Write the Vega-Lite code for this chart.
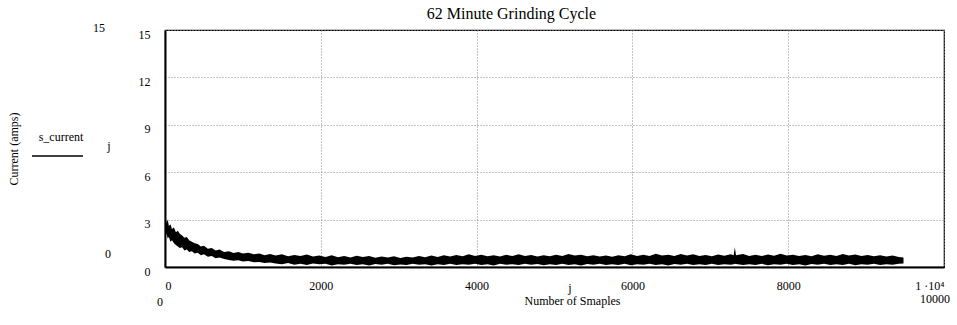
{
  "$schema": "https://vega.github.io/schema/vega-lite/v6.json",
  "width": 779,
  "height": 237,
  "autosize": {"type": "none"},
  "padding": {"left": 165, "top": 30, "right": 13, "bottom": 58},
  "background": "white",
  "title": {"text": "62 Minute Grinding Cycle", "font": "Liberation Serif", "fontSize": 16, "fontWeight": "normal", "color": "black", "anchor": "middle", "frame": "group", "dx": -43, "offset": 0},
  "config": {
    "view": {"stroke": "black", "strokeWidth": 1.2},
    "axis": {"labelFont": "Liberation Serif", "titleFont": "Liberation Serif", "labelColor": "black", "titleColor": "black", "titleFontWeight": "normal", "ticks": false, "domain": true, "domainColor": "black", "domainWidth": 2, "grid": true, "gridColor": "#8a8a8a", "gridDash": [1, 2], "gridWidth": 1}
  },
  "datasets": {
    "sig": [
      {"x":0,"hi":3.4,"lo":2.3},{"x":8,"hi":3.1,"lo":2.0},{"x":20,"hi":2.8,"lo":2.1},{"x":35,"hi":3.0,"lo":1.8},
      {"x":50,"hi":2.6,"lo":1.9},{"x":70,"hi":2.7,"lo":1.6},{"x":90,"hi":2.4,"lo":1.7},{"x":115,"hi":2.5,"lo":1.5},
      {"x":140,"hi":2.2,"lo":1.4},{"x":165,"hi":2.3,"lo":1.3},{"x":190,"hi":2.1,"lo":1.2},{"x":220,"hi":2.0,"lo":1.25},
      {"x":250,"hi":1.85,"lo":1.05},{"x":280,"hi":1.9,"lo":1.1},{"x":310,"hi":1.7,"lo":0.95},{"x":345,"hi":1.6,"lo":1.0},
      {"x":380,"hi":1.5,"lo":0.85},{"x":420,"hi":1.45,"lo":0.9},{"x":460,"hi":1.3,"lo":0.75},{"x":500,"hi":1.35,"lo":0.8},
      {"x":550,"hi":1.15,"lo":0.65},{"x":600,"hi":1.2,"lo":0.7},{"x":650,"hi":1.05,"lo":0.55},{"x":700,"hi":1.1,"lo":0.6},
      {"x":760,"hi":0.95,"lo":0.5},{"x":820,"hi":1.0,"lo":0.45},{"x":880,"hi":0.88,"lo":0.4},{"x":940,"hi":0.95,"lo":0.42},
      {"x":1000,"hi":0.85,"lo":0.35},{"x":1070,"hi":0.9,"lo":0.38},{"x":1140,"hi":0.8,"lo":0.3},{"x":1210,"hi":0.86,"lo":0.32},
      {"x":1280,"hi":0.75,"lo":0.26},{"x":1350,"hi":0.82,"lo":0.28},
      {"x":1420,"hi":0.72,"lo":0.22},{"x":1500,"hi":0.8,"lo":0.18},{"x":1580,"hi":0.68,"lo":0.25},{"x":1660,"hi":0.76,"lo":0.15},
      {"x":1740,"hi":0.7,"lo":0.2},{"x":1820,"hi":0.79,"lo":0.12},{"x":1900,"hi":0.66,"lo":0.22},{"x":1980,"hi":0.73,"lo":0.17},
      {"x":2060,"hi":0.64,"lo":0.2},{"x":2140,"hi":0.74,"lo":0.1},{"x":2220,"hi":0.62,"lo":0.18},{"x":2300,"hi":0.7,"lo":0.14},
      {"x":2380,"hi":0.6,"lo":0.2},{"x":2460,"hi":0.71,"lo":0.12},{"x":2540,"hi":0.63,"lo":0.17},{"x":2620,"hi":0.69,"lo":0.1},
      {"x":2700,"hi":0.58,"lo":0.19},{"x":2780,"hi":0.66,"lo":0.14},{"x":2860,"hi":0.6,"lo":0.2},{"x":2940,"hi":0.68,"lo":0.11},
      {"x":3020,"hi":0.57,"lo":0.16},{"x":3100,"hi":0.65,"lo":0.12},{"x":3180,"hi":0.6,"lo":0.2},{"x":3260,"hi":0.7,"lo":0.14},
      {"x":3340,"hi":0.62,"lo":0.18},{"x":3420,"hi":0.72,"lo":0.1},{"x":3500,"hi":0.64,"lo":0.17},{"x":3580,"hi":0.74,"lo":0.13},
      {"x":3660,"hi":0.66,"lo":0.2},{"x":3740,"hi":0.76,"lo":0.12},{"x":3820,"hi":0.68,"lo":0.18},{"x":3900,"hi":0.8,"lo":0.14},
      {"x":3980,"hi":0.7,"lo":0.2},{"x":4060,"hi":0.78,"lo":0.12},{"x":4140,"hi":0.68,"lo":0.17},{"x":4220,"hi":0.75,"lo":0.1},
      {"x":4300,"hi":0.66,"lo":0.2},{"x":4380,"hi":0.77,"lo":0.14},{"x":4460,"hi":0.69,"lo":0.18},{"x":4540,"hi":0.8,"lo":0.12},
      {"x":4620,"hi":0.7,"lo":0.2},{"x":4700,"hi":0.76,"lo":0.15},{"x":4780,"hi":0.66,"lo":0.19},{"x":4860,"hi":0.74,"lo":0.11},
      {"x":4940,"hi":0.68,"lo":0.18},{"x":5020,"hi":0.78,"lo":0.13},{"x":5100,"hi":0.7,"lo":0.2},{"x":5180,"hi":0.82,"lo":0.12},
      {"x":5260,"hi":0.72,"lo":0.17},{"x":5340,"hi":0.77,"lo":0.1},{"x":5420,"hi":0.68,"lo":0.19},{"x":5500,"hi":0.75,"lo":0.14},
      {"x":5580,"hi":0.67,"lo":0.2},{"x":5660,"hi":0.73,"lo":0.12},{"x":5740,"hi":0.65,"lo":0.18},{"x":5820,"hi":0.74,"lo":0.13},
      {"x":5900,"hi":0.68,"lo":0.2},{"x":5980,"hi":0.8,"lo":0.11},{"x":6060,"hi":0.7,"lo":0.18},{"x":6140,"hi":0.77,"lo":0.14},
      {"x":6220,"hi":0.69,"lo":0.2},{"x":6300,"hi":0.84,"lo":0.12},{"x":6380,"hi":0.72,"lo":0.17},{"x":6460,"hi":0.78,"lo":0.1},
      {"x":6540,"hi":0.7,"lo":0.19},{"x":6620,"hi":0.83,"lo":0.14},{"x":6700,"hi":0.73,"lo":0.2},{"x":6780,"hi":0.8,"lo":0.12},
      {"x":6860,"hi":0.7,"lo":0.18},{"x":6940,"hi":0.76,"lo":0.13},{"x":7020,"hi":0.68,"lo":0.2},{"x":7100,"hi":0.79,"lo":0.12},
      {"x":7180,"hi":0.71,"lo":0.17},{"x":7260,"hi":0.8,"lo":0.14},{"x":7300,"hi":0.74,"lo":0.18},{"x":7315,"hi":1.25,"lo":0.2},
      {"x":7330,"hi":0.75,"lo":0.19},{"x":7420,"hi":0.82,"lo":0.12},{"x":7500,"hi":0.7,"lo":0.18},{"x":7580,"hi":0.77,"lo":0.13},
      {"x":7660,"hi":0.69,"lo":0.2},{"x":7740,"hi":0.79,"lo":0.11},{"x":7820,"hi":0.71,"lo":0.18},{"x":7900,"hi":0.84,"lo":0.14},
      {"x":7980,"hi":0.73,"lo":0.2},{"x":8060,"hi":0.78,"lo":0.12},{"x":8140,"hi":0.7,"lo":0.17},{"x":8220,"hi":0.76,"lo":0.1},
      {"x":8300,"hi":0.68,"lo":0.19},{"x":8380,"hi":0.8,"lo":0.14},{"x":8460,"hi":0.71,"lo":0.2},{"x":8540,"hi":0.77,"lo":0.12},
      {"x":8620,"hi":0.69,"lo":0.18},{"x":8700,"hi":0.82,"lo":0.13},{"x":8780,"hi":0.72,"lo":0.2},{"x":8860,"hi":0.79,"lo":0.11},
      {"x":8940,"hi":0.7,"lo":0.18},{"x":9020,"hi":0.76,"lo":0.14},{"x":9100,"hi":0.68,"lo":0.2},{"x":9180,"hi":0.74,"lo":0.12},
      {"x":9260,"hi":0.66,"lo":0.18},{"x":9340,"hi":0.72,"lo":0.14},{"x":9420,"hi":0.64,"lo":0.2},{"x":9480,"hi":0.6,"lo":0.22}
    ],
    "notes": [
      {"x":-847,"hi":15.1,"t":"15"},
      {"x":-732,"hi":0.82,"t":"0"},
      {"x":-719,"hi":7.66,"t":"j"},
      {"x":-1335,"hi":8.23,"t":"s_current"},
      {"x":-64,"hi":-2.2,"t":"0"},
      {"x":9884,"hi":-2.0,"t":"10000"},
      {"x":5199,"hi":-1.33,"t":"j"}
    ],
    "leg": [{"x":-1707,"x2":-1053,"hi":7.03}]
  },
  "layer": [
    {
      "data": {"name": "sig"},
      "mark": {"type": "area", "color": "black", "interpolate": "linear"},
      "encoding": {
        "x": {"field": "x", "type": "quantitative", "scale": {"domain": [0, 10000], "nice": false, "zero": false},
              "axis": {"title": "Number of Smaples", "titleFontSize": 12, "titlePadding": 4, "titleX": 407, "values": [0, 2000, 4000, 6000, 8000, 10000], "format": "d", "labelFontSize": 12, "labelPadding": 13, "labelFlush": true,
                       "labelExpr": "datum.value == 10000 ? '1 ·10⁴' : datum.label"}},
        "y": {"field": "hi", "type": "quantitative", "scale": {"domain": [0, 15], "nice": false},
              "axis": {"title": "Current (amps)", "titleFontSize": 12, "titlePadding": 118, "values": [0, 3, 6, 9, 12, 15], "labelFontSize": 12, "labelPadding": 15, "labelOffset": 4}},
        "y2": {"field": "lo"}
      }
    },
    {
      "data": {"name": "notes"},
      "mark": {"type": "text", "font": "Liberation Serif", "fontSize": 12, "fill": "black", "align": "center", "baseline": "middle"},
      "encoding": {
        "x": {"field": "x", "type": "quantitative"},
        "y": {"field": "hi", "type": "quantitative"},
        "text": {"field": "t"}
      }
    },
    {
      "data": {"name": "leg"},
      "mark": {"type": "rule", "stroke": "black", "strokeWidth": 1.5},
      "encoding": {
        "x": {"field": "x", "type": "quantitative"},
        "x2": {"field": "x2"},
        "y": {"field": "hi", "type": "quantitative"}
      }
    }
  ]
}
